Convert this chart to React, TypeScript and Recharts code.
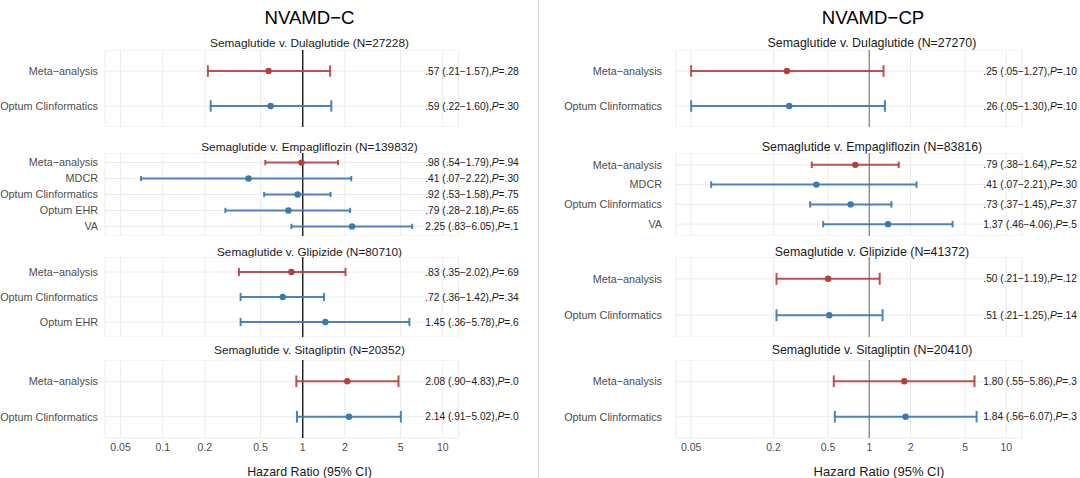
import React from "react";
import { ScatterChart, Scatter, XAxis, YAxis, CartesianGrid, ReferenceLine, ErrorBar } from "recharts";

// NVAMD-C (left panel)
const C_FACETS = [
  "Semaglutide v. Dulaglutide (N=27228)",
  "Semaglutide v. Empagliflozin (N=139832)",
  "Semaglutide v. Glipizide (N=80710)",
  "Semaglutide v. Sitagliptin (N=20352)",
];
const C_FACET_OF = [0, 0, 1, 1, 1, 1, 1, 2, 2, 2, 3, 3];
const C_SOURCES = [
  "Meta−analysis", "Optum Clinformatics",
  "Meta−analysis", "MDCR", "Optum Clinformatics", "Optum EHR", "VA",
  "Meta−analysis", "Optum Clinformatics", "Optum EHR",
  "Meta−analysis", "Optum Clinformatics",
];
const C_HR = [0.57, 0.59, 0.98, 0.41, 0.92, 0.79, 2.25, 0.83, 0.72, 1.45, 2.08, 2.14];
const C_LO = [0.21, 0.22, 0.54, 0.07, 0.53, 0.28, 0.83, 0.35, 0.36, 0.36, 0.9, 0.91];
const C_HI = [1.57, 1.6, 1.79, 2.22, 1.58, 2.18, 6.05, 2.02, 1.42, 5.78, 4.83, 5.02];
const C_P = [".28", ".30", ".94", ".30", ".75", ".65", ".1", ".69", ".34", ".6", ".0", ".0"];
const C_TICKS = [0.05, 0.1, 0.2, 0.5, 1, 2, 5, 10];

// NVAMD-CP (right panel)
const CP_FACETS = [
  "Semaglutide v. Dulaglutide (N=27270)",
  "Semaglutide v. Empagliflozin (N=83816)",
  "Semaglutide v. Glipizide (N=41372)",
  "Semaglutide v. Sitagliptin (N=20410)",
];
const CP_FACET_OF = [0, 0, 1, 1, 1, 1, 2, 2, 3, 3];
const CP_SOURCES = [
  "Meta−analysis", "Optum Clinformatics",
  "Meta−analysis", "MDCR", "Optum Clinformatics", "VA",
  "Meta−analysis", "Optum Clinformatics",
  "Meta−analysis", "Optum Clinformatics",
];
const CP_HR = [0.25, 0.26, 0.79, 0.41, 0.73, 1.37, 0.5, 0.51, 1.8, 1.84];
const CP_LO = [0.05, 0.05, 0.38, 0.07, 0.37, 0.46, 0.21, 0.21, 0.55, 0.56];
const CP_HI = [1.27, 1.3, 1.64, 2.21, 1.45, 4.06, 1.19, 1.25, 5.86, 6.07];
const CP_P = [".10", ".10", ".52", ".30", ".37", ".5", ".12", ".14", ".3", ".3"];
const CP_TICKS = [0.05, 0.2, 0.5, 1, 2, 5, 10];

// layout
const FONT = "'Liberation Sans', Arial, Helvetica, sans-serif";
const FACET_TOP = [50, 153, 257, 360];
const FACET_H = [77, 83, 80, 78];
const STRIP_Y = [43, 147, 252, 350];
const X_DOMAIN = [0.0387, 13];
const RED = "#b3403e";
const BLUE = "#3b78b1";

const fmt = (v: number) => (v < 1 ? v.toFixed(2).slice(1) : v.toFixed(2));

function facetRows(f: number, facetOf: number[], sources: string[], hr: number[], lo: number[], hi: number[], p: string[]) {
  const idx = facetOf.map((g, i) => (g === f ? i : -1)).filter((i) => i >= 0);
  return idx.map((i, k) => ({
    pos: k + 1,
    source: sources[i],
    x: hr[i],
    err: [hr[i] - lo[i], hi[i] - hr[i]],
    meta: sources[i].startsWith("Meta"),
    text: `${fmt(hr[i])} (${fmt(lo[i])}−${fmt(hi[i])}),`,
    p: p[i],
  }));
}

function CenterText({ x, y, size, color, children }: any) {
  return (
    <div
      style={{
        position: "absolute",
        left: x - 250,
        top: y - size * 0.6,
        width: 500,
        textAlign: "center",
        fontSize: size,
        lineHeight: `${size * 1.2}px`,
        color,
        whiteSpace: "nowrap",
      }}
    >
      {children}
    </div>
  );
}

const dot = (color: string) => (props: any) => <circle cx={props.cx} cy={props.cy} r={3.2} fill={color} />;

const annotation = (props: any) => {
  const d = props.payload;
  return (
    <text x={props.cx} y={props.cy} dy="0.35em" fontSize={10.2} fill="#1a1a1a" textAnchor="start" fontFamily={FONT}>
      {d.text}
      <tspan fontStyle="italic">P</tspan>
      {`=${d.p}`}
    </text>
  );
};

const rowTick = (rows: any[]) => (props: any) => (
  <text
    x={props.x}
    y={props.y}
    dy="0.35em"
    textAnchor="end"
    fontSize={10.8}
    fill="#4d4d4d"
    fontFamily={FONT}
  >
    {rows[props.payload.value - 1]?.source ?? ""}
  </text>
);

function Facet({ panel, rows, index }: any) {
  const n = rows.length;
  const bottom = index === 3;
  const h = FACET_H[index];
  const cap = (0.165 * h) / (n + 0.2);
  const meta = rows.filter((r: any) => r.meta);
  const others = rows.filter((r: any) => !r.meta);
  const labels = rows.map((r: any) => ({ x: panel.labelX, pos: r.pos, text: r.text, p: r.p }));
  return (
    <div style={{ position: "absolute", left: panel.left, top: FACET_TOP[index] }}>
      <ScatterChart
        width={panel.width}
        height={h + (bottom ? 20 : 0)}
        margin={{ top: 0, right: panel.rightMargin, bottom: 0, left: 0 }}
      >
        <CartesianGrid stroke="#ececec" strokeWidth={1} />
        <XAxis
          type="number"
          dataKey="x"
          scale="log"
          domain={X_DOMAIN}
          ticks={panel.ticks}
          tickFormatter={(v: number) => String(v)}
          hide={!bottom}
          height={20}
          axisLine={false}
          tickLine={false}
          tickSize={0}
          tickMargin={6}
          interval={0}
          tick={{ fontSize: 10.5, fill: "#4d4d4d", fontFamily: FONT }}
        />
        <YAxis
          type="number"
          dataKey="pos"
          domain={[0.4, n + 0.6]}
          ticks={rows.map((r: any) => r.pos)}
          reversed
          interval={0}
          width={panel.yAxisWidth}
          axisLine={false}
          tickLine={false}
          tickSize={0}
          tickMargin={panel.tickMargin}
          tick={rowTick(rows)}
        />
        <ReferenceLine x={1} stroke={panel.refColor} strokeWidth={1.4} />
        <Scatter data={others} shape={dot(BLUE)} isAnimationActive={false}>
          <ErrorBar dataKey="err" direction="x" width={cap} stroke={BLUE} strokeWidth={2} strokeOpacity={0.9} />
        </Scatter>
        <Scatter data={meta} shape={dot(RED)} isAnimationActive={false}>
          <ErrorBar dataKey="err" direction="x" width={cap} stroke={RED} strokeWidth={2} strokeOpacity={0.9} />
        </Scatter>
        <Scatter data={labels} shape={annotation} isAnimationActive={false} />
      </ScatterChart>
    </div>
  );
}

function Panel({ panel }: any) {
  return (
    <>
      <CenterText x={panel.titleX} y={18} size={18.6} color="#000">
        {panel.title}
      </CenterText>
      {panel.facets.map((name: string, f: number) => (
        <React.Fragment key={name}>
          <CenterText x={panel.stripX} y={STRIP_Y[f]} size={panel.stripSize} color="#1a1a1a">
            {name}
          </CenterText>
          <Facet
            panel={panel}
            index={f}
            rows={facetRows(f, panel.facetOf, panel.sources, panel.hr, panel.lo, panel.hi, panel.p)}
          />
        </React.Fragment>
      ))}
      <CenterText x={panel.axisTitleX} y={472} size={panel.axisTitleSize} color="#1a1a1a">
        Hazard Ratio (95% CI)
      </CenterText>
    </>
  );
}

const LEFT = {
  title: "NVAMD−C",
  facets: C_FACETS,
  facetOf: C_FACET_OF,
  sources: C_SOURCES,
  hr: C_HR,
  lo: C_LO,
  hi: C_HI,
  p: C_P,
  ticks: C_TICKS,
  left: 0,
  width: 540,
  yAxisWidth: 105,
  tickMargin: 7,
  rightMargin: 81.3,
  labelX: 7.5,
  titleX: 309.5,
  stripX: 309.5,
  stripSize: 11.8,
  axisTitleX: 309.5,
  axisTitleSize: 12.4,
  refColor: "#1a1a1a",
};

const RIGHT = {
  title: "NVAMD−CP",
  facets: CP_FACETS,
  facetOf: CP_FACET_OF,
  sources: CP_SOURCES,
  hr: CP_HR,
  lo: CP_LO,
  hi: CP_HI,
  p: CP_P,
  ticks: CP_TICKS,
  left: 540,
  width: 540,
  yAxisWidth: 135.9,
  tickMargin: 13.9,
  rightMargin: 58.1,
  labelX: 6.8,
  titleX: 873,
  stripX: 872,
  stripSize: 12.4,
  axisTitleX: 879,
  axisTitleSize: 13,
  refColor: "#8a8a8a",
};

export default function App() {
  return (
    <div
      style={{
        position: "absolute",
        left: 0,
        top: 0,
        width: 1080,
        height: 478,
        background: "#fff",
        overflow: "hidden",
        fontFamily: FONT,
      }}
    >
      <div style={{ position: "absolute", left: 538, top: 0, width: 1, height: 478, background: "#d9d9d9" }} />
      <Panel panel={LEFT} />
      <Panel panel={RIGHT} />
    </div>
  );
}
